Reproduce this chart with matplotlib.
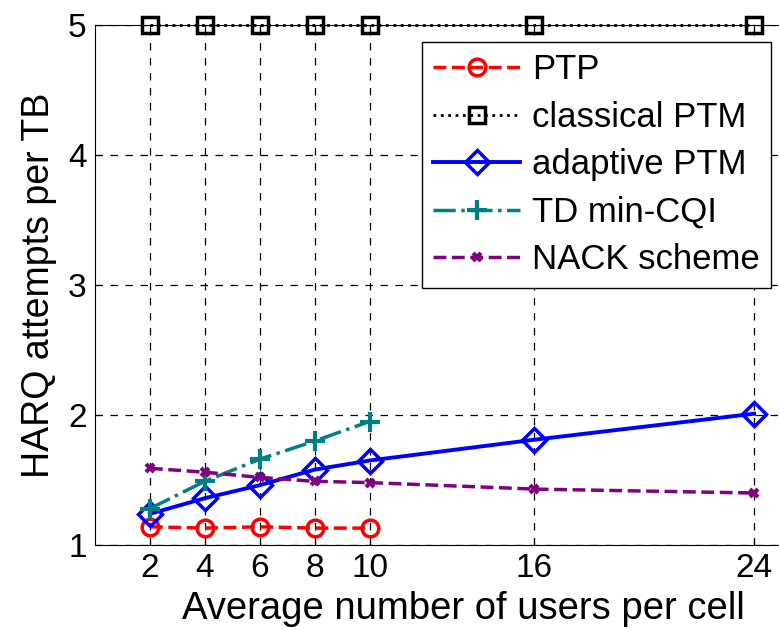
import matplotlib.pyplot as plt

plt.rcParams["font.family"] = ["Liberation Sans", "DejaVu Sans"]

# data
users = [2, 4, 6, 8, 10, 16, 24]
users_short = [2, 4, 6, 8, 10]

ptp = [1.14, 1.13, 1.14, 1.13, 1.13]
classical_ptm = [5, 5, 5, 5, 5, 5, 5]
adaptive_ptm = [1.24, 1.36, 1.46, 1.58, 1.65, 1.81, 2.01]
td_min_cqi = [1.28, 1.49, 1.66, 1.80, 1.95]
nack = [1.59, 1.56, 1.52, 1.49, 1.48, 1.43, 1.40]

xticks = [2, 4, 6, 8, 10, 16, 24]
yticks = [1, 2, 3, 4, 5]

W, H = 779, 630
fig = plt.figure(figsize=(W / 100, H / 100), dpi=100)
# the original figure is cropped on the right, so the axes run past the edge
ax = fig.add_axes([95 / W, 85 / H, 736 / W, 520 / H])

ax.plot(users_short, ptp, "--o", color="red", lw=2.5, ms=12, mew=2.5,
        mfc="none", label="PTP", clip_on=False, zorder=5)
ax.plot(users, classical_ptm, ":s", color="black", lw=2, ms=11, mew=2.5,
        mfc="none", label="classical PTM", clip_on=False, zorder=5)
ax.plot(users, adaptive_ptm, "-D", color="blue", lw=2.8, ms=12, mew=2.5,
        mfc="none", label="adaptive PTM", clip_on=False, zorder=5)
ax.plot(users_short, td_min_cqi, "-.+", color="teal", lw=2.5, ms=14, mew=3,
        label="TD min-CQI", clip_on=False, zorder=5)
ax.plot(users, nack, "--x", color="purple", lw=2.5, ms=6, mew=3,
        label="NACK scheme", clip_on=False, zorder=5)

ax.set_xlim(0, 26.8)
ax.set_ylim(1, 5)
ax.set_xticks(xticks)
ax.set_yticks(yticks)
ax.tick_params(direction="in", length=5, labelsize=24, top=True, right=True)
ax.tick_params(axis="x", pad=6)
ax.tick_params(axis="y", pad=6)
ax.grid(True, color="black", linestyle=(0, (6, 6)), linewidth=0.9)

ax.set_xlabel("Average number of users per cell", fontsize=27.5, labelpad=5)
ax.set_ylabel("HARQ attempts per TB", fontsize=27, labelpad=8)

leg = ax.legend(loc="upper right", bbox_to_anchor=(771 / W, 1 - 42 / H),
                bbox_transform=fig.transFigure,
                fontsize=25, handlelength=2.5, handletextpad=0.35,
                labelspacing=0.42, borderpad=0.32, borderaxespad=0,
                fancybox=False, framealpha=1, edgecolor="black")
leg.get_frame().set_linewidth(1)

fig.savefig("out.png", dpi=100)
